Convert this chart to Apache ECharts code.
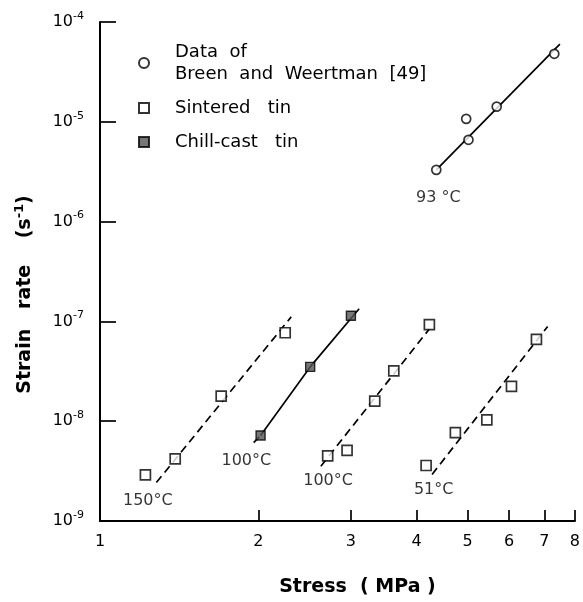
<!DOCTYPE html>
<html>
<head>
<meta charset="utf-8">
<script src="https://cdn.jsdelivr.net/npm/echarts@6/dist/echarts.min.js"></script>
<style>
html,body{margin:0;padding:0;background:#fff;}
#chart{width:583px;height:602px;}
</style>
</head>
<body>
<div id="chart"></div>
<script>
// ---- Data ----
// Breen and Weertman [49], 93 °C
const stress93 = [4.36, 5.02, 4.97, 5.68, 7.31];
const rate93   = [3.3e-6, 6.6e-6, 1.07e-5, 1.42e-5, 4.8e-5];
const fit93X   = [4.36, 7.49];
const fit93Y   = [3.3e-6, 6.0e-5];

// Sintered tin, 150 °C
const stress150 = [1.22, 1.39, 1.70, 2.25];
const rate150   = [2.9e-9, 4.2e-9, 1.78e-8, 7.7e-8];
const fit150X   = [1.28, 2.31];
const fit150Y   = [2.43e-9, 1.11e-7];

// Chill-cast tin, 100 °C
const stressChill = [2.02, 2.51, 3.00];
const rateChill   = [7.2e-9, 3.5e-8, 1.14e-7];
const fitChillX   = [2.02, 2.51, 3.11];
const fitChillY   = [7.2e-9, 3.5e-8, 1.34e-7];
const extChillX   = [1.96, 2.02];
const extChillY   = [6.1e-9, 7.2e-9];

// Sintered tin, 100 °C
const stress100 = [2.71, 2.95, 3.33, 3.62, 4.23];
const rate100   = [4.5e-9, 5.1e-9, 1.59e-8, 3.2e-8, 9.3e-8];
const fit100X   = [2.63, 4.23];
const fit100Y   = [3.54e-9, 8.4e-8];

// Sintered tin, 51 °C
const stress51 = [4.17, 4.74, 5.44, 6.06, 6.76];
const rate51   = [3.6e-9, 7.7e-9, 1.03e-8, 2.23e-8, 6.6e-8];
const fit51X   = [4.28, 7.10];
const fit51Y   = [2.93e-9, 8.9e-8];

// Temperature annotations (data coordinates)
const tempText = ['93 °C', '150°C', '100°C', '100°C', '51°C'];
const tempX    = [4.40, 1.233, 1.898, 2.715, 4.31];
const tempY    = [1.74e-6, 1.58e-9, 4.03e-9, 2.50e-9, 2.04e-9];

// Axis ticks
const xTickLabels = [1, 2, 3, 4, 5, 6, 7, 8];
const xTickMarks  = [2, 3, 4, 5, 6, 7, 8];

const NAME_BW = 'Data  of\nBreen  and  Weertman  [49]';
const NAME_SIN = 'Sintered   tin';
const NAME_CC = 'Chill-cast   tin';

const zip = (xs, ys) => xs.map((x, i) => [x, ys[i]]);
const FONT = 'DejaVu Sans';
const INK = '#000';

function fitLine(xs, ys, dashed) {
  return {
    type: 'line', data: zip(xs, ys), showSymbol: false, symbol: 'none',
    silent: true, z: 2,
    lineStyle: { color: INK, width: 1.7, type: dashed ? [8, 5] : 'solid' }
  };
}
const hollow = { color: '#fff', borderColor: INK, borderWidth: 1.7 };

const chart = echarts.init(document.getElementById('chart'), null, { renderer: 'canvas' });
chart.setOption({
  animation: false,
  backgroundColor: '#fff',
  textStyle: { fontFamily: FONT, color: INK },
  grid: { left: 100, right: 3, top: 22, bottom: 74, containLabel: false },
  legend: {
    orient: 'vertical', left: 133, top: 36, itemGap: 12,
    itemWidth: 10, itemHeight: 10,
    textStyle: { fontFamily: FONT, fontSize: 18, color: INK, lineHeight: 22, padding: [0, 0, 0, 21] },
    data: [
      { name: NAME_BW, icon: 'circle' },
      { name: NAME_SIN, icon: 'rect' },
      { name: NAME_CC, icon: 'rect' }
    ]
  },
  xAxis: {
    type: 'log', logBase: 10, min: 1, max: 8,
    name: 'Stress  ( MPa )', nameLocation: 'middle', nameGap: 57,
    nameTextStyle: { fontFamily: FONT, fontSize: 19, fontWeight: 'bold', color: INK, padding: [0, 0, 0, 40] },
    axisLine: { lineStyle: { color: INK, width: 2 } },
    axisTick: { inside: true, length: 11, lineStyle: { color: INK, width: 1.7 }, customValues: xTickMarks },
    axisLabel: { fontFamily: FONT, fontSize: 16, color: INK, margin: 13, customValues: xTickLabels,
      formatter: v => String(Math.round(v)) },
    splitLine: { show: false }, minorTick: { show: false }
  },
  yAxis: {
    type: 'log', logBase: 10, min: 1e-9, max: 1e-4,
    name: '{t|Strain   rate    (s}{s|-1}{t|)}', nameLocation: 'middle', nameRotate: 90, nameGap: 63,
    nameTextStyle: { padding: [0, 46, 0, 0],
      rich: { t: { fontFamily: FONT, fontSize: 19, fontWeight: 'bold', color: INK },
              s: { fontFamily: FONT, fontSize: 13, fontWeight: 'bold', color: INK, padding: [0, 0, 11, 0] } } },
    axisLine: { lineStyle: { color: INK, width: 2 } },
    axisTick: { inside: true, length: 16, lineStyle: { color: INK, width: 1.7 } },
    axisLabel: { margin: 16,
      formatter: v => '{b|10}{s|' + Math.round(Math.log10(v)) + '}',
      rich: { b: { fontFamily: FONT, fontSize: 16, color: INK }, s: { fontFamily: FONT, fontSize: 11, color: INK, padding: [0, 0, 12, 0] } } },
    splitLine: { show: false }, minorTick: { show: false }
  },
  series: [
    fitLine(fit93X, fit93Y, false),
    fitLine(fit150X, fit150Y, true),
    fitLine(fitChillX, fitChillY, false),
    fitLine(extChillX, extChillY, true),
    fitLine(fit100X, fit100Y, true),
    fitLine(fit51X, fit51Y, true),
    { type: 'scatter', name: NAME_BW, data: zip(stress93, rate93), symbol: 'circle', symbolSize: 9, itemStyle: hollow, z: 3 },
    { type: 'scatter', name: NAME_SIN, data: zip(stress150, rate150), symbol: 'rect', symbolSize: 10, itemStyle: hollow, z: 3 },
    { type: 'scatter', name: NAME_SIN, data: zip(stress100, rate100), symbol: 'rect', symbolSize: 10, itemStyle: hollow, z: 3 },
    { type: 'scatter', name: NAME_SIN, data: zip(stress51, rate51), symbol: 'rect', symbolSize: 10, itemStyle: hollow, z: 3 },
    { type: 'scatter', name: NAME_CC, data: zip(stressChill, rateChill), symbol: 'rect', symbolSize: 9,
      itemStyle: { color: '#555', borderColor: INK, borderWidth: 1.4 }, z: 3 },
    { type: 'scatter', name: 'labels', silent: true, symbolSize: 0, z: 4,
      data: tempText.map((t, i) => ({ name: t, value: [tempX[i], tempY[i]] })),
      label: { show: true, position: 'inside', formatter: p => p.name,
        fontFamily: FONT, fontSize: 16, color: INK } }
  ]
});
</script>
</body>
</html>
